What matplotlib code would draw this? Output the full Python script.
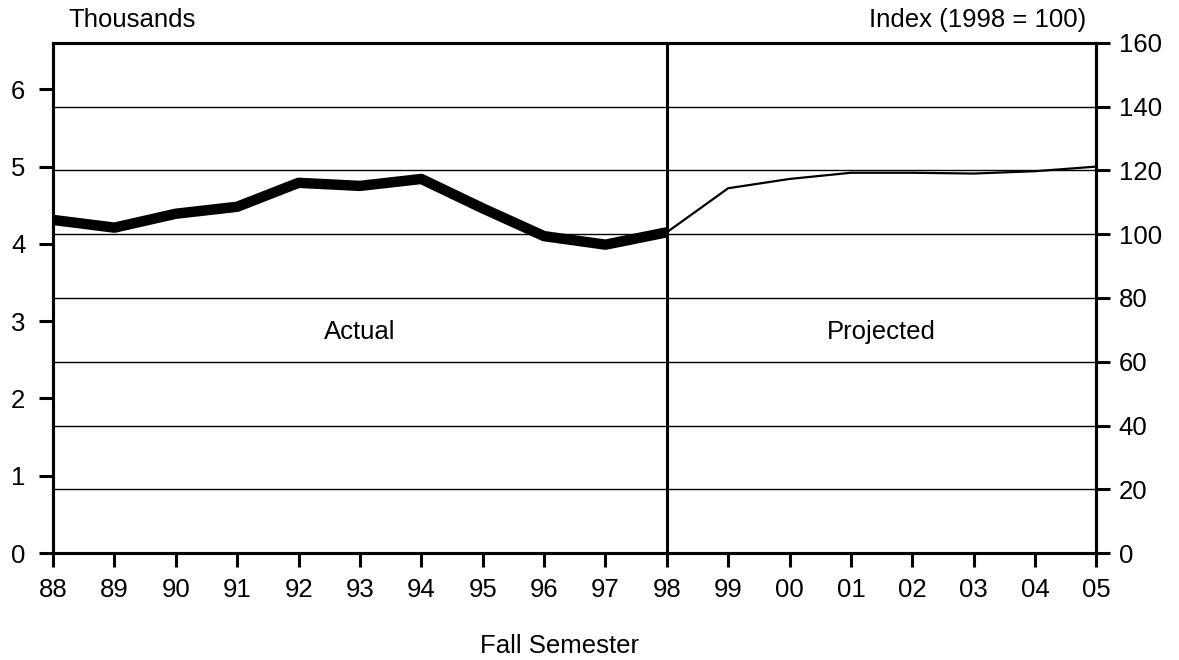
import matplotlib
matplotlib.use("Agg")
import matplotlib.pyplot as plt

plt.rcParams['font.family'] = ['Liberation Sans', 'DejaVu Sans']

years = list(range(88, 106))
year_labels = ["88", "89", "90", "91", "92", "93", "94", "95", "96", "97",
               "98", "99", "00", "01", "02", "03", "04", "05"]
actual_years = list(range(88, 99))
actual_values = [4.31, 4.21, 4.39, 4.48, 4.79, 4.75, 4.84, 4.46, 4.10, 3.99, 4.15]
proj_years = list(range(98, 106))
proj_values = [4.15, 4.72, 4.84, 4.92, 4.92, 4.91, 4.94, 5.00]
left_ticks = [0, 1, 2, 3, 4, 5, 6]
right_ticks = [0, 20, 40, 60, 80, 100, 120, 140, 160]

fig = plt.figure(figsize=(11.79, 6.6), dpi=100)
ax = fig.add_axes([0.045, 0.162, 0.885, 0.773])
ax2 = ax.twinx()

fs = 18.5
# gridlines following the index axis
ax2.set_ylim(0, 160)
ax2.set_yticks(right_ticks)
for t in right_ticks[1:-1]:
    ax2.axhline(t, color='black', lw=1.0, zorder=1)

ax.set_zorder(ax2.get_zorder() + 1)
ax.patch.set_visible(False)

ax.plot(actual_years, actual_values, color='black', lw=7.5, solid_capstyle='butt', zorder=3)
ax.plot(proj_years, proj_values, color='black', lw=1.6, zorder=3)
ax.axvline(98, color='black', lw=2.2, zorder=4)

ax.set_xlim(88, 105)
ax.set_ylim(0, 6.6)
ax.set_xticks(years)
ax.set_xticklabels(year_labels)
ax.set_yticks(left_ticks)

for a in (ax, ax2):
    for s in a.spines.values():
        s.set_linewidth(2.2)
    a.tick_params(labelsize=fs, width=2.2, length=10, direction='out', pad=6)
ax.tick_params(axis='y', pad=10)
ax.tick_params(axis='x', pad=8)

ax.text(93.0, 2.86, "Actual", fontsize=fs, ha='center', va='center')
ax.text(101.5, 2.86, "Projected", fontsize=fs, ha='center', va='center')

fig.text(68/1179, 1 - 20/660, "Thousands", fontsize=fs, ha='left', va='center')
fig.text(1086/1179, 1 - 20/660, "Index (1998 = 100)", fontsize=fs, ha='right', va='center')
fig.text(560/1179, 1 - 646/660, "Fall Semester", fontsize=fs, ha='center', va='center')

fig.savefig("out.png", dpi=100)
